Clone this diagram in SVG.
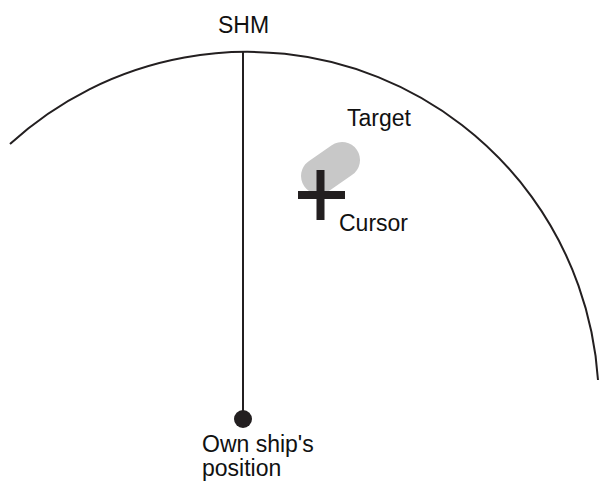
<svg xmlns="http://www.w3.org/2000/svg" width="600" height="484" viewBox="0 0 600 484">
<style>
.lbl{font-family:"Liberation Sans",Arial,sans-serif;font-size:23px;fill:#111}
.ln{fill:none;stroke:#231f20;stroke-width:2}
</style>
<rect width="600" height="484" fill="#fff"/>
<g id="range-arc"><path class="ln" d="M10,144 A351.5,351.5 0 0 1 598,380"/></g>
<g id="connectors"><line class="ln" x1="243" y1="52" x2="243" y2="418"/></g>
<g id="target"><line x1="319" y1="176" x2="342" y2="160" stroke="#c8c8c8" stroke-width="36" stroke-linecap="round"/><text class="lbl" x="347" y="126">Target</text></g>
<g id="cursor"><rect x="316.5" y="170" width="8" height="50" fill="#231f20"/><rect x="298" y="191" width="47" height="8" fill="#231f20"/><text class="lbl" x="339" y="231">Cursor</text></g>
<g id="shm"><text class="lbl" x="218" y="33">SHM</text></g>
<g id="own-ship"><circle cx="243" cy="419" r="9" fill="#231f20"/><text class="lbl" x="202" y="452">Own ship's</text><text class="lbl" x="202" y="476">position</text></g>
</svg>
